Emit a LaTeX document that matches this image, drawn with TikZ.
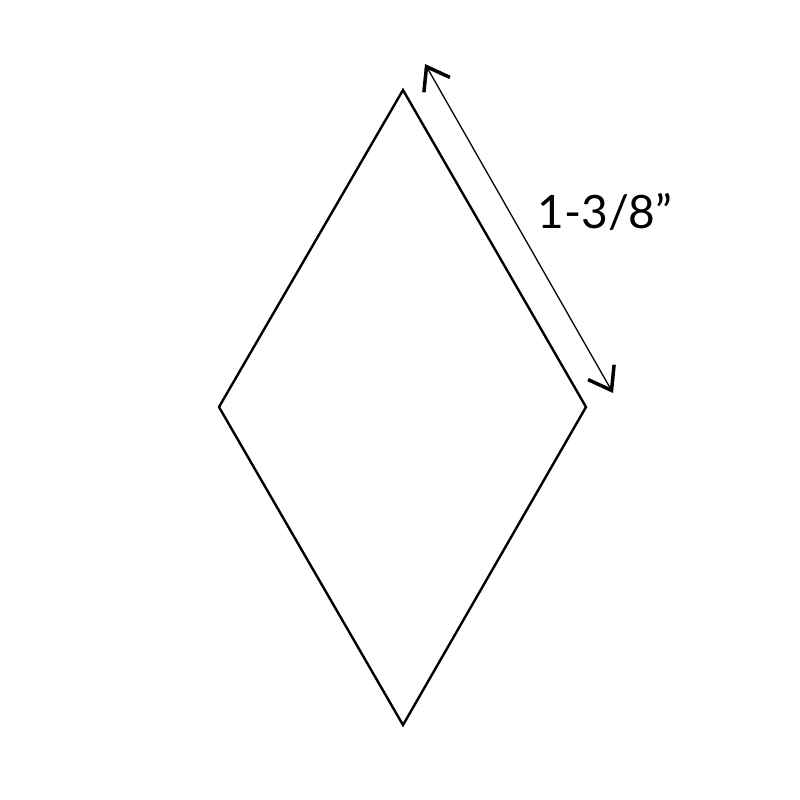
\documentclass[tikz,border=0pt]{standalone}
\usepackage{fontspec}
\setmainfont{Lato}
\usetikzlibrary{arrows.meta}
\begin{document}
\begin{tikzpicture}[x=1pt,y=-1pt,
  rhomb/.style={draw=black,line width=2.4pt,line join=miter},
  dim/.style={draw=black,line width=1.3pt,{Straight Barb[length=21pt,width=30pt,line width=3.5pt]}-{Straight Barb[length=21pt,width=30pt,line width=3.5pt]}},
  lbl/.style={font=\fontsize{46}{56}\selectfont,inner sep=0pt}]
\useasboundingbox (0,0) rectangle (800,800);
\coordinate (t) at (403,90);
\coordinate (r) at (586,407);
\coordinate (b) at (403,725);
\coordinate (l) at (219,407);
\draw[rhomb] (t) -- (r) -- (b) -- (l) -- cycle;
\coordinate (a1) at (425,64);
\coordinate (a2) at (613,393);
\draw[dim] (a1) -- (a2);
\node[lbl] (len) at (605,212) {1-3/8”};
\end{tikzpicture}
\end{document}
